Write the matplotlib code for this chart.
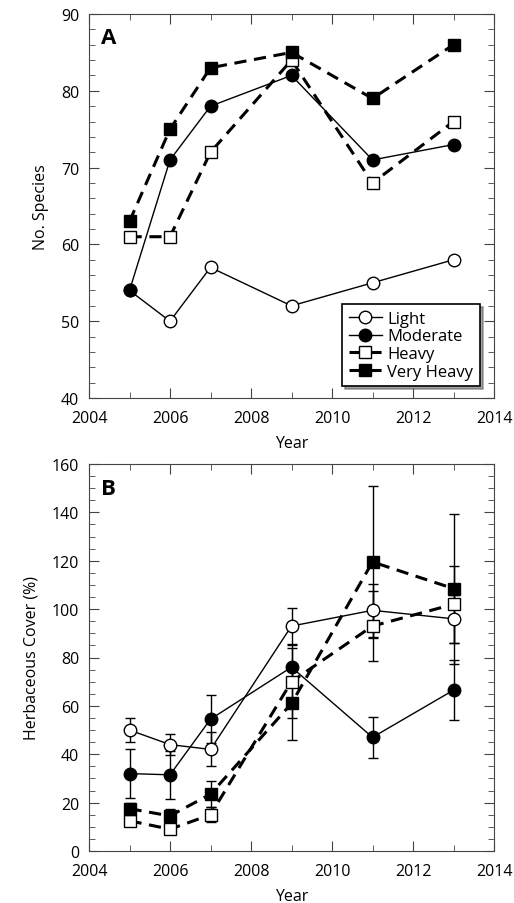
import matplotlib
matplotlib.use("Agg")
import matplotlib.pyplot as plt
from matplotlib.ticker import MultipleLocator

years = [2005, 2006, 2007, 2009, 2011, 2013]
labels = ["Light", "Moderate", "Heavy", "Very Heavy"]

# panel A - number of species
species_light = [54, 50, 57, 52, 55, 58]
species_moderate = [54, 71, 78, 82, 71, 73]
species_heavy = [61, 61, 72, 84, 68, 76]
species_vheavy = [63, 75, 83, 85, 79, 86]

# panel B - herbaceous cover (%) with error bars
cover_light = [50, 44, 42, 93, 99.5, 96]
cover_light_err = [5, 4.5, 7, 7.5, 11, 10]
cover_moderate = [32, 31.5, 54.5, 76, 47, 66.5]
cover_moderate_err = [10, 10, 10, 8, 8.5, 12.5]
cover_heavy = [12.5, 9, 15, 70, 93, 102]
cover_heavy_err = [2, 2, 3, 15, 14.5, 16]
cover_vheavy = [17.5, 14.5, 23.5, 61, 119.5, 108.5]
cover_vheavy_err = [2.5, 3, 5.5, 15, 31.5, 31]

styles = [
    dict(marker="o", mfc="white", ls="-", lw=1.0, ms=9),
    dict(marker="o", mfc="black", ls="-", lw=1.0, ms=9),
    dict(marker="s", mfc="white", ls=(0, (4, 2.5)), lw=2.2, ms=8),
    dict(marker="s", mfc="black", ls=(0, (4, 2.5)), lw=2.2, ms=8),
]


def style_axes(ax, ylim, ymajor, yminor, ylabel, letter):
    ax.set_xlim(2004, 2014)
    ax.set_ylim(*ylim)
    ax.xaxis.set_major_locator(MultipleLocator(2))
    ax.xaxis.set_minor_locator(MultipleLocator(1))
    ax.yaxis.set_major_locator(MultipleLocator(ymajor))
    ax.yaxis.set_minor_locator(MultipleLocator(yminor))
    ax.tick_params(which="both", direction="in", top=True, right=True,
                   labelsize=11.5, color="#444444")
    ax.tick_params(which="major", length=7)
    ax.tick_params(which="minor", length=4)
    ax.tick_params(axis="x", which="major", pad=9)
    ax.tick_params(axis="y", which="major", pad=7)
    for s in ax.spines.values():
        s.set_color("#444444")
    ax.set_xlabel("Year", fontsize=11.5, labelpad=6)
    ax.set_ylabel(ylabel, fontsize=11.5, labelpad=9)
    ax.text(0.03, 0.965, letter, transform=ax.transAxes, fontsize=16,
            fontweight="bold", va="top", ha="left")


plt.rcParams["font.family"] = ["Open Sans", "DejaVu Sans"]
fig = plt.figure(figsize=(5.14, 9.04), dpi=100)
axA = fig.add_axes([89 / 514, 1 - 399 / 904, 405 / 514, 384 / 904])
axB = fig.add_axes([89 / 514, 1 - 852 / 904, 405 / 514, 387 / 904])

series_a = [species_light, species_moderate, species_heavy, species_vheavy]
for vals, st, lab in zip(series_a, styles, labels):
    axA.plot(years, vals, color="black", mec="black", label=lab, **st)

style_axes(axA, (40, 90), 10, 2, "No. Species", "A")
leg = axA.legend(loc="lower right", bbox_to_anchor=(0.965, 0.03),
                 fontsize=12, frameon=True, fancybox=False, shadow=True,
                 handlelength=2.0, handletextpad=0.3, labelspacing=0.1,
                 borderpad=0.4, borderaxespad=0)
leg.get_frame().set_edgecolor("black")
leg.get_frame().set_linewidth(1.2)

series_b = [cover_light, cover_moderate, cover_heavy, cover_vheavy]
errs_b = [cover_light_err, cover_moderate_err, cover_heavy_err, cover_vheavy_err]
for vals, err, st in zip(series_b, errs_b, styles):
    axB.errorbar(years, vals, yerr=err, color="black", mec="black",
                 ecolor="black", elinewidth=1.0, capsize=3.5, capthick=1.0,
                 **st)

style_axes(axB, (0, 160), 20, 5, "Herbaceous Cover (%)", "B")

fig.savefig("out.png", dpi=100)
